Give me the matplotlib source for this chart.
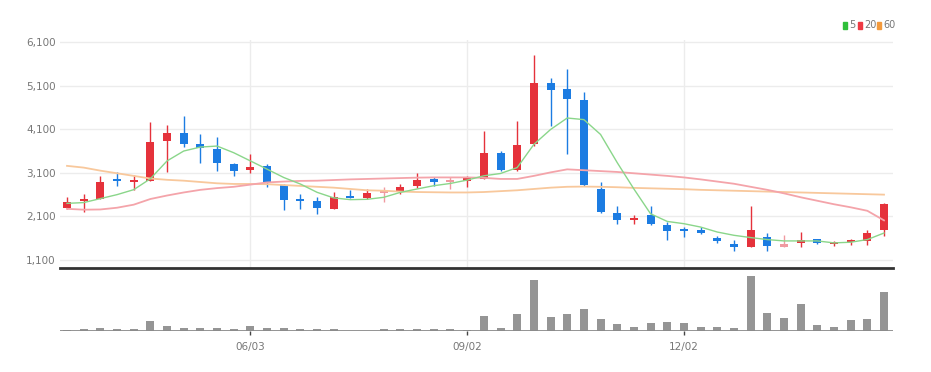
import numpy as np
import matplotlib
matplotlib.use("Agg")
import matplotlib.pyplot as plt
from matplotlib.patches import Rectangle

# -------------------------------
# Data (weekly candles)
# -------------------------------
opens = [2300, 2450, 2500, 2930, 2900, 2920, 3830, 4010, 3750, 3640,
         3310, 3160, 3260, 2830, 2500, 2450, 2280, 2580, 2530, 2640,
         2660, 2790, 2960, 2880, 2920, 2970, 3550, 3160, 3750, 5170,
         5030, 4760, 2730, 2175, 2020, 2140, 1900, 1800, 1780, 1600,
         1460, 1400, 1630, 1400, 1500, 1575, 1470, 1510, 1530, 1780]
closes = [2425, 2470, 2900, 2910, 2920, 3810, 4010, 3770, 3680, 3330,
          3150, 3240, 2860, 2480, 2450, 2300, 2555, 2530, 2630, 2660,
          2780, 2930, 2890, 2900, 2990, 3550, 3160, 3740, 5170, 4990,
          4800, 2820, 2200, 2010, 2040, 1920, 1760, 1770, 1710, 1540,
          1400, 1780, 1425, 1460, 1570, 1480, 1490, 1520, 1730, 2390]
highs = [2540, 2620, 3030, 3120, 3060, 4270, 4190, 4400, 3980, 3920,
         3330, 3540, 3300, 2840, 2620, 2540, 2650, 2710, 2730, 2780,
         2840, 3090, 3010, 3010, 3030, 4070, 3600, 4280, 5810, 5280,
         5490, 4950, 2880, 2350, 2140, 2330, 1970, 1860, 1860, 1645,
         1560, 2350, 1710, 1670, 1745, 1590, 1540, 1590, 1780, 2400]
lows = [2280, 2200, 2490, 2790, 2710, 2910, 3130, 3690, 3330, 3150,
        3030, 3100, 2770, 2250, 2280, 2160, 2270, 2520, 2490, 2440,
        2620, 2750, 2800, 2730, 2780, 2960, 3150, 3150, 3710, 4170,
        3530, 2790, 2190, 1920, 1930, 1910, 1570, 1620, 1690, 1480,
        1300, 1390, 1310, 1400, 1400, 1470, 1420, 1440, 1440, 1650]
unchanged = [19, 23, 43]

volume = [1000, 1700, 2700, 1700, 2300, 10000, 5000, 3300, 2700, 2700,
          1700, 4700, 3000, 2700, 1700, 1700, 1700, 300, 300, 1700,
          1700, 1700, 1700, 1700, 1000, 15000, 2700, 16700, 51000, 14300,
          16700, 21700, 11700, 6700, 4300, 8300, 9300, 7700, 4300, 4300,
          2700, 55300, 18300, 13300, 26700, 6000, 4300, 11000, 11700, 38700]

ma5 = [2400, 2418, 2509, 2600, 2714, 2964, 3373, 3600, 3691, 3714,
       3561, 3373, 3184, 2993, 2843, 2653, 2525, 2485, 2493, 2539,
       2653, 2730, 2805, 2857, 2934, 3032, 3085, 3220, 3752, 4093,
       4357, 4320, 3980, 3334, 2730, 2161, 1986, 1934, 1857, 1743,
       1668, 1616, 1570, 1539, 1539, 1539, 1494, 1509, 1570, 1720]
ma20 = [2275, 2255, 2260, 2300, 2370, 2500, 2580, 2650, 2710, 2750,
        2780, 2830, 2880, 2900, 2915, 2920, 2935, 2950, 2960, 2970,
        2980, 2990, 2995, 2995, 2995, 2985, 2960, 2960, 3030, 3110,
        3180, 3160, 3140, 3120, 3090, 3060, 3030, 2995, 2950, 2900,
        2850, 2780, 2710, 2630, 2540, 2460, 2380, 2310, 2230, 2010]
ma60 = [3260, 3220, 3150, 3090, 3030, 2970, 2940, 2920, 2890, 2860,
        2845, 2845, 2840, 2820, 2800, 2780, 2760, 2730, 2700, 2690,
        2670, 2660, 2655, 2650, 2650, 2660, 2680, 2700, 2730, 2760,
        2780, 2785, 2780, 2770, 2755, 2745, 2735, 2725, 2710, 2700,
        2690, 2680, 2670, 2660, 2650, 2640, 2630, 2620, 2610, 2600]

tick_pos = [11, 24, 37]
tick_labels = ["06/03", "09/02", "12/02"]
price_ticks = [1100, 2100, 3100, 4100, 5100, 6100]

# -------------------------------
# Style
# -------------------------------
plt.rcParams['font.family'] = ['Liberation Sans Narrow', 'DejaVu Sans']
RED = "#e5323b"
BLUE = "#1c7ce2"
PINK = "#f09aa0"
GRID = "#ececec"
TXT = "#777777"

fig = plt.figure(figsize=(9.31, 3.72), dpi=100)
ax = fig.add_axes([60 / 931, (372 - 268) / 372, 833 / 931, 228 / 372])
axv = fig.add_axes([60 / 931, (372 - 331) / 372, 833 / 931, 61 / 372])

x = np.arange(len(opens))

# -------------------------------
# Price panel
# -------------------------------
ax.set_xlim(-0.42, len(opens) - 1 + 0.54)
ax.set_ylim(6100 - 228 * 1000 / 44, 6100 + 2 * 1000 / 44)
ax.set_yticks(price_ticks)
ax.set_yticklabels([f"{v:,}" for v in price_ticks], color=TXT, fontsize=7.5)
ax.tick_params(axis="y", length=0, pad=3)
ax.set_xticks(tick_pos)
ax.tick_params(axis="x", length=0, labelbottom=False)
ax.grid(True, color=GRID, linewidth=1)
ax.set_axisbelow(True)
for s in ["top", "right", "left"]:
    ax.spines[s].set_visible(False)
ax.spines["bottom"].set_color("#333333")
ax.spines["bottom"].set_linewidth(2)

colors = []
for i in range(len(opens)):
    if i in unchanged:
        colors.append(PINK)
    elif closes[i] >= opens[i]:
        colors.append(RED)
    else:
        colors.append(BLUE)

ax.vlines(x, lows, highs, colors=colors, linewidth=1, zorder=2)
bottoms = np.minimum(opens, closes)
heights = np.maximum(np.abs(np.array(closes) - np.array(opens)), 45)
ax.bar(x, heights, bottom=bottoms, width=0.48, color=colors, zorder=3)

ax.plot(x, ma60, color="#f8c89c", linewidth=1.3, zorder=4)
ax.plot(x, ma20, color="#f4a4aa", linewidth=1.3, zorder=4)
ax.plot(x, ma5, color="#8ad68a", linewidth=1.0, zorder=4)

# -------------------------------
# Volume panel
# -------------------------------
axv.set_xlim(ax.get_xlim())
axv.set_ylim(0, max(volume) * 1.1)
axv.bar(x, volume, width=0.48, color="#959595", zorder=2)
axv.axhline(0, color="#8a8a8a", linewidth=2, zorder=3)
axv.set_yticks([])
axv.set_xticks(tick_pos)
axv.set_xticklabels(tick_labels, color=TXT, fontsize=7.5)
axv.tick_params(axis="x", length=3, width=1, color="#444444", pad=5)
for s in ["top", "right", "left", "bottom"]:
    axv.spines[s].set_visible(False)

# -------------------------------
# Legend
# -------------------------------
legend_items = [("5", "#2fbf3a", 843), ("20", "#ee3a44", 858), ("60", "#f39a3c", 877)]
for label, c, px in legend_items:
    fig.patches.append(Rectangle((px / 931, (372 - 29) / 372), 4 / 931, 7 / 372,
                                 transform=fig.transFigure, color=c))
    fig.text((px + 6) / 931, (372 - 25.5) / 372, label, color=TXT, fontsize=7,
             va="center", ha="left")

fig.savefig("out.png", dpi=100, facecolor="white")
